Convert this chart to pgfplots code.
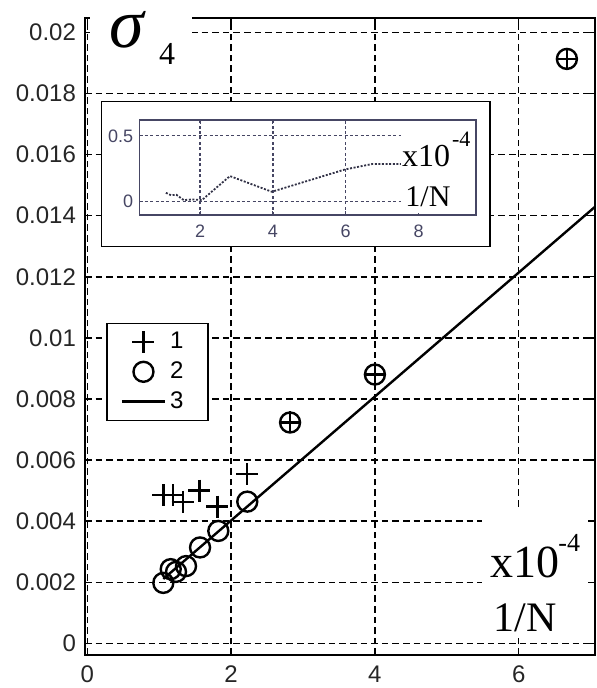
\documentclass[border=0pt]{standalone}
\usepackage{fontspec}
\setmainfont{Liberation Serif}
\setsansfont{Liberation Sans}
\usepackage{pgfplots}
\pgfplotsset{compat=1.18}
\definecolor{insetc}{RGB}{70,70,100}
\begin{document}
\begin{tikzpicture}[x=1pt,y=1pt]
\path[use as bounding box] (-42.5pt,-16.5pt) rectangle (256pt,327.5pt);
\begin{axis}[
  at={(0pt,0pt)}, anchor=south west, scale only axis,
  width=255pt, height=318.5pt,
  xmin=-0.032, xmax=7.061, ymin=-0.00038, ymax=0.02047,
  xtick={0,2,4,6}, xticklabels={0,2,4,6},
  ytick={0,0.002,0.004,0.006,0.008,0.01,0.012,0.014,0.016,0.018,0.02},
  yticklabels={0,0.002,0.004,0.006,0.008,0.01,0.012,0.014,0.016,0.018,0.02},
  scaled y ticks=false, scaled x ticks=false,
  grid=major,
  major grid style={black, line width=0.75pt, dash pattern=on 3.3pt off 2pt},
  axis line style={black, line width=0.9pt},
  tick style={black, line width=0.7pt},
  major tick length=3pt,
  tick align=inside,
  ticklabel style={font=\sffamily\fontsize{12}{14}\selectfont, text=black!85},
  yticklabel style={xshift=-1pt},
  xticklabel style={yshift=-2pt},
  legend style={at={(0.0412,0.5217)}, anchor=north west, draw=black, line width=0.75pt, fill=white,
    font=\sffamily\fontsize{12}{14}\selectfont, inner xsep=7pt, inner ysep=2.5pt, row sep=1pt,
    nodes={inner sep=2pt},
    /tikz/every even column/.append style={column sep=12pt}},
  legend cell align=left,
]
\addplot[black, only marks, mark=+, mark size=5.5pt, line width=1.2pt,
  legend image code/.code={\draw[mark repeat=2,mark phase=2] plot coordinates {(0pt,0pt) (10.75pt,0pt) (21.5pt,0pt)};}]
  coordinates {(1.057,0.00485) (1.188,0.00485) (1.327,0.00463) (1.558,0.00500) (1.808,0.00448) (2.225,0.00554)
               (2.82,0.00723) (4.0,0.0088) (6.67,0.01913)};
\addlegendentry{\makebox[10pt][l]{1}}
\addplot[black, only marks, mark=o, mark size=5pt, line width=1.2pt,
  legend image code/.code={\draw[mark repeat=2,mark phase=2] plot coordinates {(0pt,0pt) (10.75pt,0pt) (21.5pt,0pt)};}]
  coordinates {(1.057,0.00198) (1.16,0.00243) (1.234,0.00234) (1.373,0.00253) (1.568,0.00314) (1.822,0.00368) (2.225,0.00464)
               (2.82,0.00723) (4.0,0.0088) (6.67,0.01913)};
\addlegendentry{\makebox[10pt][l]{2}}
\addplot[black, line width=1.2pt,
  legend image code/.code={\draw (0pt,0pt) -- (21.5pt,0pt);}]
  coordinates {(1.057,0.00211) (7.061,0.01429)};
\addlegendentry{\makebox[10pt][l]{3}}
\end{axis}
% sigma label
\fill[white] (2.5,293.5) rectangle (53.5,327.5);
\node[font=\itshape\fontsize{35}{40}\selectfont, inner sep=0] at (21,312.5) {σ};
\node[font=\fontsize{16}{18}\selectfont, inner sep=0] at (41,300.5) {4};
% bottom-right label
\fill[white] (198.5,9) rectangle (251.5,72.5);
\node[anchor=base west, inner sep=0, font=\fontsize{23}{26}\selectfont] at (202.5,38.5) {x10};
\node[anchor=base west, inner sep=0, font=\fontsize{13}{15}\selectfont] at (236.5,51.5) {-4};
\node[anchor=base west, inner sep=0, font=\fontsize{21}{24}\selectfont] at (204,11.5) {1/N};
% inset frame
\draw[fill=white, line width=0.75pt] (8.35,204.15) rectangle (202.5,276.65);
\begin{axis}[
  at={(27.15pt,220pt)}, anchor=south west, scale only axis,
  width=168.35pt, height=47.5pt,
  xmin=0.33, xmax=9.58, ymin=-0.1, ymax=0.62,
  xtick={2,4,6,8}, xticklabels={2,4,6,8},
  ytick={0,0.5}, yticklabels={0,0.5},
  grid=major,
  major grid style={insetc, line width=0.65pt, dash pattern=on 1.5pt off 1.2pt},
  axis line style={insetc, line width=0.7pt},
  tick style={insetc, line width=0.5pt},
  major tick length=2pt, tick align=inside,
  ticklabel style={font=\sffamily\fontsize{9}{10}\selectfont, text=insetc},
  yticklabel style={xshift=0.5pt},
  xticklabel style={yshift=-1.5pt},
]
\addplot[insetc!70!black, line width=0.9pt, dash pattern=on 1pt off 0.8pt]
  coordinates {(1.06,0.068) (1.2,0.05) (1.35,0.053) (1.55,0.013) (1.8,0.018) (2.05,0.013)
               (2.82,0.195) (3.97,0.076) (5.98,0.245) (6.72,0.286) (7.6,0.286)};
\end{axis}
\fill[white] (158,221) rectangle (194.75,266.8);
\node[anchor=base west, inner sep=0, font=\fontsize{16}{18}\selectfont] at (158.35,244.15) {x10};
\node[anchor=base west, inner sep=0, font=\fontsize{11}{13}\selectfont] at (183.35,254.15) {-4};
\node[anchor=base west, inner sep=0, font=\fontsize{15}{17}\selectfont] at (160,224.15) {1/N};
\end{tikzpicture}
\end{document}
